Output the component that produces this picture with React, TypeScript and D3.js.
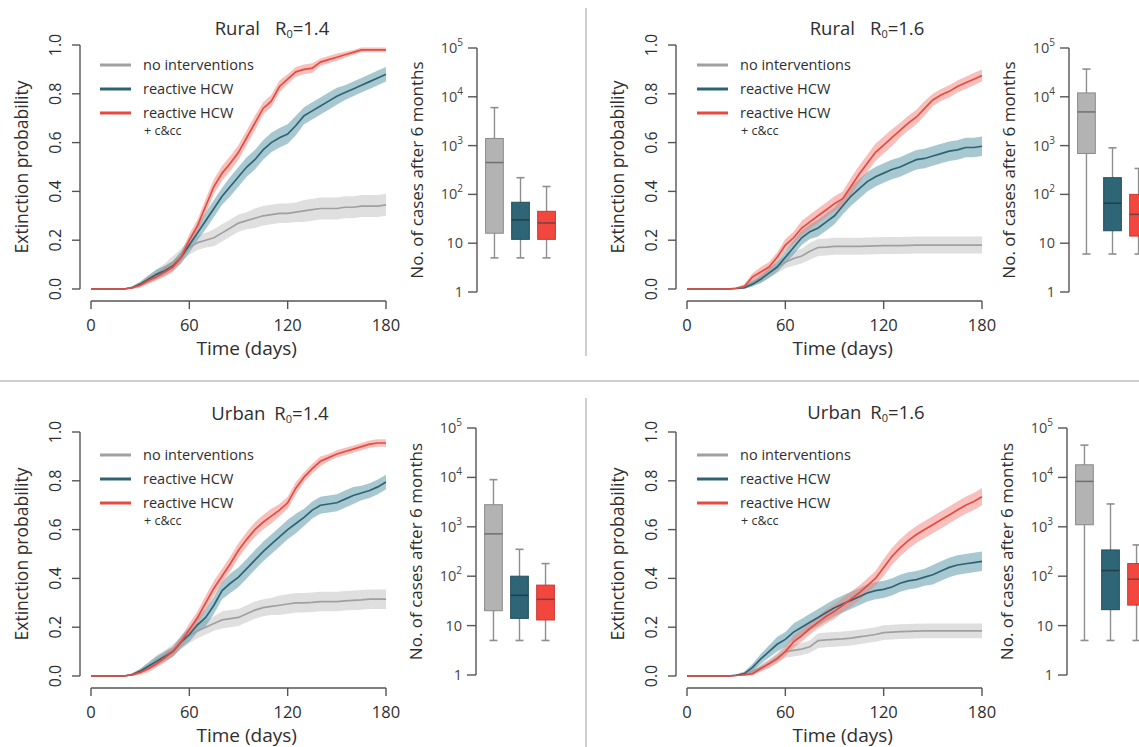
import React from "react";
import * as d3 from "d3";

const days = [0, 10, 20, 25, 30, 35, 40, 45, 50, 55, 60, 65, 70, 75, 80, 85, 90, 95, 100, 105, 110, 115, 120, 125, 130, 135, 140, 145, 150, 155, 160, 165, 170, 175, 180];

// Rural R0=1.4
const ruralLowNone = [0, 0, 0, 0.005, 0.02, 0.04, 0.06, 0.085, 0.11, 0.14, 0.17, 0.19, 0.2, 0.21, 0.23, 0.25, 0.27, 0.28, 0.29, 0.3, 0.305, 0.31, 0.31, 0.315, 0.32, 0.325, 0.33, 0.33, 0.33, 0.335, 0.335, 0.34, 0.34, 0.34, 0.345];
const ruralLowNoneCI = [0, 0, 0, 0.005, 0.01, 0.015, 0.02, 0.02, 0.025, 0.025, 0.03, 0.03, 0.03, 0.035, 0.035, 0.035, 0.035, 0.035, 0.04, 0.04, 0.04, 0.04, 0.04, 0.04, 0.045, 0.045, 0.045, 0.045, 0.045, 0.045, 0.045, 0.045, 0.045, 0.045, 0.045];
const ruralLowHcw = [0, 0, 0, 0.005, 0.02, 0.04, 0.06, 0.075, 0.095, 0.13, 0.18, 0.23, 0.28, 0.33, 0.38, 0.42, 0.46, 0.5, 0.53, 0.57, 0.6, 0.62, 0.635, 0.67, 0.71, 0.73, 0.75, 0.77, 0.79, 0.805, 0.82, 0.835, 0.85, 0.865, 0.88];
const ruralLowHcwCI = [0, 0, 0, 0.005, 0.01, 0.015, 0.02, 0.02, 0.02, 0.025, 0.03, 0.03, 0.035, 0.035, 0.035, 0.04, 0.04, 0.04, 0.04, 0.04, 0.04, 0.04, 0.04, 0.04, 0.035, 0.035, 0.035, 0.035, 0.035, 0.03, 0.03, 0.03, 0.03, 0.03, 0.03];
const ruralLowCcc = [0, 0, 0, 0.005, 0.015, 0.035, 0.05, 0.07, 0.09, 0.13, 0.2, 0.26, 0.34, 0.42, 0.475, 0.515, 0.56, 0.62, 0.68, 0.74, 0.77, 0.83, 0.86, 0.89, 0.9, 0.905, 0.93, 0.94, 0.95, 0.96, 0.97, 0.98, 0.98, 0.98, 0.98];
const ruralLowCccCI = [0, 0, 0, 0.005, 0.01, 0.015, 0.015, 0.02, 0.02, 0.02, 0.025, 0.025, 0.03, 0.03, 0.03, 0.03, 0.03, 0.03, 0.03, 0.025, 0.025, 0.025, 0.02, 0.02, 0.02, 0.02, 0.015, 0.015, 0.015, 0.012, 0.01, 0.01, 0.01, 0.01, 0.01];

// Rural R0=1.6
const ruralHighNone = [0, 0, 0, 0, 0.003, 0.01, 0.03, 0.045, 0.065, 0.09, 0.11, 0.125, 0.135, 0.155, 0.17, 0.172, 0.175, 0.175, 0.175, 0.175, 0.176, 0.177, 0.178, 0.178, 0.178, 0.179, 0.18, 0.18, 0.18, 0.18, 0.18, 0.18, 0.18, 0.18, 0.18];
const ruralHighNoneCI = [0, 0, 0, 0, 0.003, 0.008, 0.015, 0.02, 0.02, 0.025, 0.025, 0.03, 0.03, 0.035, 0.035, 0.035, 0.035, 0.035, 0.035, 0.035, 0.035, 0.035, 0.035, 0.035, 0.035, 0.035, 0.035, 0.035, 0.035, 0.035, 0.035, 0.035, 0.035, 0.035, 0.035];
const ruralHighHcw = [0, 0, 0, 0, 0.002, 0.005, 0.02, 0.04, 0.065, 0.09, 0.13, 0.17, 0.21, 0.235, 0.25, 0.275, 0.3, 0.34, 0.38, 0.41, 0.44, 0.46, 0.475, 0.49, 0.5, 0.515, 0.53, 0.535, 0.545, 0.555, 0.565, 0.57, 0.58, 0.58, 0.585];
const ruralHighHcwCI = [0, 0, 0, 0, 0.002, 0.005, 0.01, 0.015, 0.02, 0.02, 0.025, 0.03, 0.03, 0.03, 0.035, 0.035, 0.035, 0.035, 0.04, 0.04, 0.04, 0.04, 0.04, 0.04, 0.04, 0.04, 0.04, 0.04, 0.04, 0.04, 0.04, 0.04, 0.04, 0.04, 0.04];
const ruralHighCcc = [0, 0, 0, 0, 0.003, 0.01, 0.05, 0.07, 0.09, 0.13, 0.18, 0.21, 0.25, 0.275, 0.3, 0.325, 0.35, 0.37, 0.42, 0.47, 0.515, 0.56, 0.59, 0.62, 0.65, 0.68, 0.705, 0.74, 0.775, 0.795, 0.81, 0.83, 0.845, 0.86, 0.875];
const ruralHighCccCI = [0, 0, 0, 0, 0.003, 0.01, 0.015, 0.02, 0.02, 0.02, 0.025, 0.025, 0.03, 0.03, 0.03, 0.03, 0.03, 0.03, 0.035, 0.035, 0.035, 0.035, 0.035, 0.035, 0.03, 0.03, 0.03, 0.03, 0.025, 0.025, 0.025, 0.025, 0.025, 0.025, 0.025];

// Urban R0=1.4
const urbanLowNone = [0, 0, 0, 0.005, 0.02, 0.04, 0.065, 0.085, 0.105, 0.135, 0.165, 0.185, 0.2, 0.215, 0.23, 0.235, 0.24, 0.255, 0.27, 0.28, 0.285, 0.29, 0.295, 0.3, 0.3, 0.302, 0.305, 0.305, 0.305, 0.308, 0.31, 0.312, 0.315, 0.315, 0.315];
const urbanLowNoneCI = [0, 0, 0, 0.005, 0.01, 0.015, 0.02, 0.02, 0.025, 0.025, 0.03, 0.03, 0.03, 0.03, 0.035, 0.035, 0.035, 0.035, 0.035, 0.035, 0.035, 0.04, 0.04, 0.04, 0.04, 0.04, 0.04, 0.04, 0.04, 0.04, 0.04, 0.04, 0.04, 0.04, 0.04];
const urbanLowHcw = [0, 0, 0, 0.005, 0.02, 0.04, 0.06, 0.08, 0.1, 0.14, 0.17, 0.21, 0.24, 0.29, 0.35, 0.38, 0.405, 0.44, 0.475, 0.51, 0.54, 0.57, 0.6, 0.625, 0.65, 0.68, 0.7, 0.705, 0.71, 0.725, 0.74, 0.75, 0.76, 0.775, 0.795];
const urbanLowHcwCI = [0, 0, 0, 0.005, 0.01, 0.015, 0.02, 0.02, 0.02, 0.025, 0.03, 0.03, 0.035, 0.035, 0.035, 0.04, 0.04, 0.04, 0.04, 0.04, 0.04, 0.04, 0.04, 0.04, 0.035, 0.035, 0.035, 0.035, 0.035, 0.035, 0.035, 0.03, 0.03, 0.03, 0.03];
const urbanLowCcc = [0, 0, 0, 0.005, 0.015, 0.03, 0.05, 0.075, 0.1, 0.14, 0.19, 0.24, 0.3, 0.36, 0.41, 0.46, 0.515, 0.56, 0.6, 0.63, 0.655, 0.68, 0.71, 0.77, 0.815, 0.85, 0.88, 0.895, 0.91, 0.92, 0.93, 0.94, 0.95, 0.955, 0.955];
const urbanLowCccCI = [0, 0, 0, 0.005, 0.01, 0.015, 0.015, 0.02, 0.02, 0.02, 0.025, 0.025, 0.03, 0.03, 0.03, 0.03, 0.03, 0.03, 0.03, 0.03, 0.03, 0.025, 0.025, 0.025, 0.02, 0.02, 0.02, 0.015, 0.015, 0.015, 0.015, 0.015, 0.015, 0.015, 0.015];

// Urban R0=1.6
const urbanHighNone = [0, 0, 0, 0, 0.003, 0.008, 0.02, 0.035, 0.05, 0.075, 0.1, 0.105, 0.11, 0.12, 0.145, 0.148, 0.15, 0.152, 0.155, 0.16, 0.165, 0.17, 0.178, 0.18, 0.182, 0.183, 0.184, 0.185, 0.185, 0.185, 0.185, 0.185, 0.185, 0.185, 0.185];
const urbanHighNoneCI = [0, 0, 0, 0, 0.003, 0.008, 0.012, 0.015, 0.018, 0.02, 0.025, 0.025, 0.025, 0.025, 0.03, 0.03, 0.03, 0.03, 0.03, 0.03, 0.03, 0.03, 0.03, 0.03, 0.03, 0.03, 0.03, 0.03, 0.03, 0.03, 0.03, 0.03, 0.03, 0.03, 0.03];
const urbanHighHcw = [0, 0, 0, 0, 0.003, 0.01, 0.035, 0.07, 0.1, 0.13, 0.15, 0.18, 0.2, 0.22, 0.24, 0.26, 0.28, 0.295, 0.31, 0.325, 0.34, 0.35, 0.355, 0.365, 0.38, 0.39, 0.395, 0.405, 0.415, 0.43, 0.445, 0.455, 0.46, 0.465, 0.47];
const urbanHighHcwCI = [0, 0, 0, 0, 0.003, 0.008, 0.015, 0.02, 0.025, 0.03, 0.03, 0.035, 0.035, 0.035, 0.035, 0.035, 0.035, 0.035, 0.035, 0.035, 0.035, 0.035, 0.035, 0.035, 0.035, 0.035, 0.035, 0.035, 0.04, 0.04, 0.04, 0.04, 0.04, 0.04, 0.04];
const urbanHighCcc = [0, 0, 0, 0, 0.002, 0.005, 0.01, 0.03, 0.05, 0.07, 0.1, 0.14, 0.165, 0.195, 0.22, 0.245, 0.265, 0.29, 0.315, 0.34, 0.37, 0.4, 0.445, 0.49, 0.525, 0.555, 0.58, 0.6, 0.62, 0.64, 0.66, 0.68, 0.7, 0.715, 0.735];
const urbanHighCccCI = [0, 0, 0, 0, 0.002, 0.005, 0.008, 0.012, 0.015, 0.018, 0.02, 0.025, 0.025, 0.025, 0.025, 0.03, 0.03, 0.03, 0.03, 0.03, 0.03, 0.03, 0.035, 0.035, 0.035, 0.035, 0.035, 0.035, 0.035, 0.035, 0.035, 0.035, 0.035, 0.035, 0.035];

// box plots: [whisker low, q1, median, q3, whisker high], cases after 6 months
const ruralLowBoxes = [[5, 16, 450, 1400, 6000], [5, 12, 30, 69, 220], [5, 12, 26, 45, 145]];
const ruralHighBoxes = [[6, 690, 4900, 12000, 37000], [6, 18, 66, 220, 900], [6, 14, 39, 100, 340]];
const urbanLowBoxes = [[5, 20, 720, 2800, 9000], [5, 14, 41, 100, 350], [5, 13, 34, 66, 180]];
const urbanHighBoxes = [[5, 1100, 8300, 18000, 45000], [5, 21, 130, 340, 2900], [5, 26, 87, 180, 430]];

const seriesNames = ["no interventions", "reactive HCW", "reactive HCW"];
const xTicks = [0, 60, 120, 180];
const yTicks = [0, 0.2, 0.4, 0.6, 0.8, 1.0];
const logTicks = [1, 10, 100, 1000, 10000, 100000];

const STYLE = {
  font: "'Open Sans', 'Noto Sans', sans-serif",
  text: "#2e2e2e",
  axis: "#555",
  lines: ["#a0a0a0", "#2d6474", "#e9493f"],
  bands: ["#c9c9c9", "#5f9aaa", "#f0827a"],
  bandOpacity: [0.6, 0.55, 0.5],
  boxFill: ["#b3b3b3", "#2e6577", "#f2473e"],
  boxStroke: ["#8a8a8a", "#23505e", "#c9382f"],
  whisker: "#8e8e8e",
  sep: "#cfcfcf",
};

const panels = [
  { region: "Rural", r0: "1.4", gap: 15, ox: 0, oy: 0, titleX: 272, titleY: 35, series: [[ruralLowNone, ruralLowNoneCI], [ruralLowHcw, ruralLowHcwCI], [ruralLowCcc, ruralLowCccCI]], boxes: ruralLowBoxes, boxX: 477, boxTop: 48, boxBottom: 292 },
  { region: "Rural", r0: "1.6", gap: 15, ox: 596, oy: 0, titleX: 867, titleY: 35, series: [[ruralHighNone, ruralHighNoneCI], [ruralHighHcw, ruralHighHcwCI], [ruralHighCcc, ruralHighCccCI]], boxes: ruralHighBoxes, boxX: 1069, boxTop: 48, boxBottom: 292 },
  { region: "Urban", r0: "1.4", gap: 9, ox: 0, oy: 387, titleX: 270, titleY: 420, series: [[urbanLowNone, urbanLowNoneCI], [urbanLowHcw, urbanLowHcwCI], [urbanLowCcc, urbanLowCccCI]], boxes: urbanLowBoxes, boxX: 476, boxTop: 428, boxBottom: 675 },
  { region: "Urban", r0: "1.6", gap: 9, ox: 596, oy: 387, titleX: 866, titleY: 419, series: [[urbanHighNone, urbanHighNoneCI], [urbanHighHcw, urbanHighHcwCI], [urbanHighCcc, urbanHighCccCI]], boxes: urbanHighBoxes, boxX: 1067, boxTop: 428, boxBottom: 675 },
];

function CurvePanel({ p }) {
  const x = d3.scaleLinear().domain([0, 180]).range([91 + p.ox, 386 + p.ox]);
  const y = d3.scaleLinear().domain([0, 1]).range([289 + p.oy, 45 + p.oy]);
  const yAxisX = 80 + p.ox;
  const xAxisY = 301 + p.oy;

  const line = d3.line<number>().x((_, i) => x(days[i])).y((v) => y(v));

  return (
    <g>
      <text x={p.titleX} y={p.titleY} textAnchor="middle" fontSize={18.5} fill={STYLE.text}>
        <tspan>{p.region}</tspan>
        <tspan dx={p.gap}>R</tspan>
        <tspan dy={3} fontSize={11}>0</tspan>
        <tspan dy={-3}>={p.r0}</tspan>
      </text>

      {p.series.map(([vals, ci], k) => {
        const area = d3
          .area<number>()
          .x((_, i) => x(days[i]))
          .y0((v, i) => y(Math.max(0, v - ci[i])))
          .y1((v, i) => y(Math.min(1, v + ci[i])));
        return (
          <path key={"b" + k} d={area(vals) || ""} fill={STYLE.bands[k]} opacity={STYLE.bandOpacity[k]} />
        );
      })}
      {p.series.map(([vals], k) => (
        <path key={"l" + k} d={line(vals) || ""} fill="none" stroke={STYLE.lines[k]} strokeWidth={1.7} />
      ))}

      {/* y axis */}
      <line x1={yAxisX} x2={yAxisX} y1={y(0)} y2={y(1)} stroke={STYLE.axis} strokeWidth={1.4} />
      {yTicks.map((t) => (
        <g key={t}>
          <line x1={yAxisX - 8} x2={yAxisX} y1={y(t)} y2={y(t)} stroke={STYLE.axis} strokeWidth={1.4} />
          <text transform={`translate(${yAxisX - 19},${y(t)}) rotate(-90)`} textAnchor="middle" fontSize={16} fill={STYLE.text}>
            {t.toFixed(1)}
          </text>
        </g>
      ))}
      <text transform={`translate(${28 + p.ox},${y(0.5)}) rotate(-90)`} textAnchor="middle" fontSize={17.5} fill={STYLE.text}>
        Extinction probability
      </text>

      {/* x axis */}
      <line x1={x(0)} x2={x(180)} y1={xAxisY} y2={xAxisY} stroke={STYLE.axis} strokeWidth={1.4} />
      {xTicks.map((t) => (
        <g key={t}>
          <line x1={x(t)} x2={x(t)} y1={xAxisY} y2={xAxisY + 8} stroke={STYLE.axis} strokeWidth={1.4} />
          <text x={x(t)} y={xAxisY + 30} textAnchor="middle" fontSize={16.5} fill={STYLE.text}>
            {t}
          </text>
        </g>
      ))}
      <text x={x(95)} y={xAxisY + 54} textAnchor="middle" fontSize={19} fill={STYLE.text}>
        Time (days)
      </text>

      {/* legend */}
      {seriesNames.map((name, k) => {
        const ly = 65 + p.oy + (p.oy ? 3 : 0) + k * 24;
        const lx = 100 + p.ox + (p.ox ? 1 : 0);
        return (
          <g key={k}>
            <line x1={lx} x2={lx + 31} y1={ly} y2={ly} stroke={STYLE.lines[k]} strokeWidth={3} />
            <text x={lx + 43} y={ly + 5} fontSize={14.5} fill={STYLE.text}>
              {name}
            </text>
            {k === 2 && (
              <text x={lx + 44} y={ly + 22} fontSize={12.5} fill={STYLE.text}>
                + c&amp;cc
              </text>
            )}
          </g>
        );
      })}
    </g>
  );
}

function BoxPanel({ p }) {
  const yb = d3.scaleLog().domain([1, 1e5]).range([p.boxBottom, p.boxTop]);
  const xb = d3.scaleBand().domain(["0", "1", "2"]).range([p.boxX + 6, p.boxX + 81]).paddingInner(0.32).paddingOuter(0.1);
  const mid = p.boxTop + (p.boxBottom - p.boxTop) / 2;
  return (
    <g>
      <line x1={p.boxX} x2={p.boxX} y1={p.boxBottom} y2={p.boxTop} stroke={STYLE.axis} strokeWidth={1.4} />
      {logTicks.map((t, i) => (
        <g key={t}>
          <line x1={p.boxX - 9} x2={p.boxX} y1={yb(t)} y2={yb(t)} stroke={STYLE.axis} strokeWidth={1.4} />
          <text x={p.boxX - 14} y={yb(t) + 5} textAnchor="end" fontSize={14.5} fill="#444">
            {i === 0 ? "1" : i === 1 ? "10" : (
              <>
                <tspan>10</tspan>
                <tspan dy={-7} fontSize={10}>{i}</tspan>
              </>
            )}
          </text>
        </g>
      ))}
      <text transform={`translate(${p.boxX - 54},${mid}) rotate(-90)`} textAnchor="middle" fontSize={17} fill={STYLE.text}>
        No. of cases after 6 months
      </text>
      {p.boxes.map((b, k) => {
        const x0 = xb(String(k)) || 0;
        const w = xb.bandwidth();
        const cx = x0 + w / 2;
        return (
          <g key={k}>
            <line x1={cx} x2={cx} y1={yb(b[0])} y2={yb(b[4])} stroke={STYLE.whisker} strokeWidth={1.4} />
            <line x1={cx - 4} x2={cx + 4} y1={yb(b[0])} y2={yb(b[0])} stroke={STYLE.whisker} strokeWidth={1.6} />
            <line x1={cx - 4} x2={cx + 4} y1={yb(b[4])} y2={yb(b[4])} stroke={STYLE.whisker} strokeWidth={1.6} />
            <rect x={x0} y={yb(b[3])} width={w} height={yb(b[1]) - yb(b[3])} fill={STYLE.boxFill[k]} stroke={STYLE.boxStroke[k]} strokeWidth={1} />
            <line x1={x0} x2={x0 + w} y1={yb(b[2])} y2={yb(b[2])} stroke={k === 0 ? "#6f6f6f" : "#1f3f4a"} strokeWidth={1.5} opacity={k === 2 ? 0.6 : 1} />
          </g>
        );
      })}
    </g>
  );
}

export default function App() {
  return (
    <svg
      width={1139}
      height={747}
      style={{ position: "absolute", left: 0, top: 0, background: "#fff" }}
      fontFamily={STYLE.font}
    >
      <rect width={1139} height={747} fill="#fff" />
      <line x1={0} x2={1139} y1={381} y2={381} stroke={STYLE.sep} strokeWidth={2} />
      <line x1={586} x2={586} y1={8} y2={356} stroke={STYLE.sep} strokeWidth={2} />
      <line x1={586} x2={586} y1={398} y2={747} stroke={STYLE.sep} strokeWidth={2} />
      {panels.map((p, i) => (
        <g key={i}>
          <CurvePanel p={p} />
          <BoxPanel p={p} />
        </g>
      ))}
    </svg>
  );
}
